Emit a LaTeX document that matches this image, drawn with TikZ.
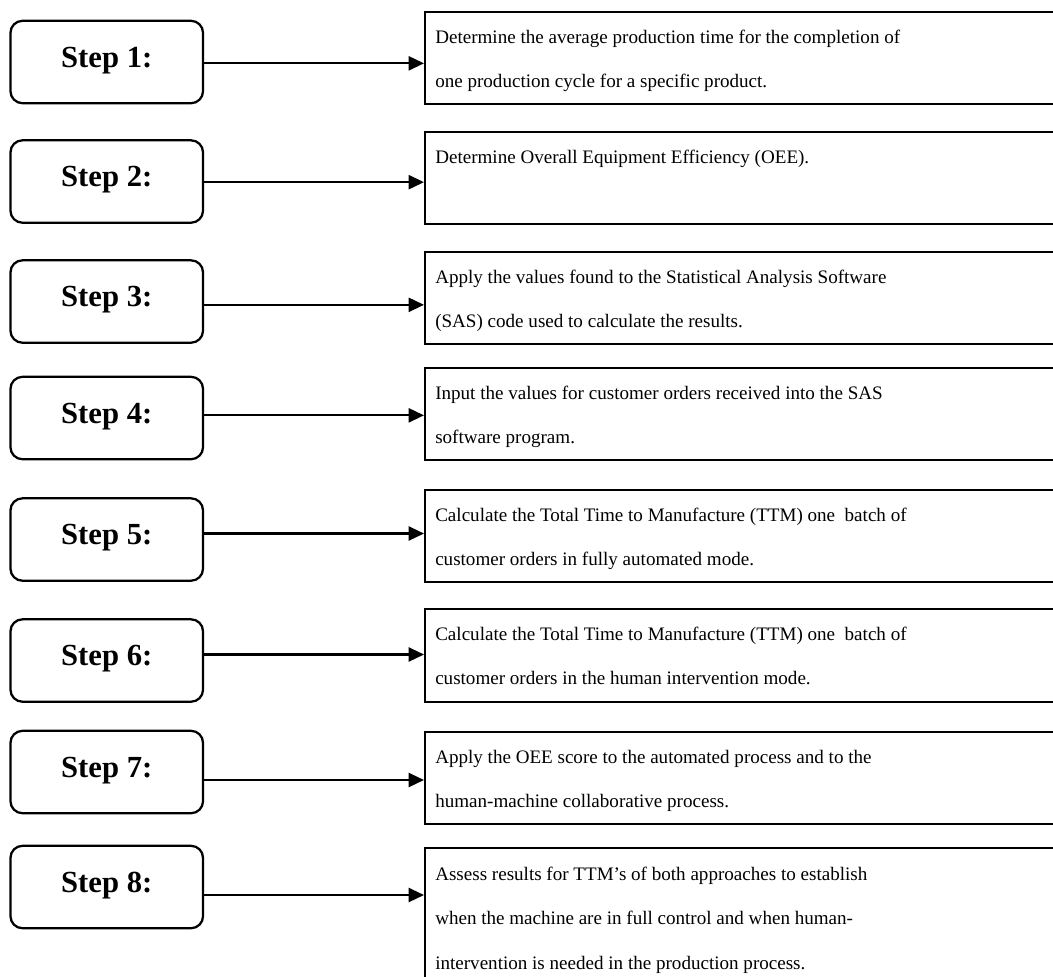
\documentclass[tikz,border=0pt]{standalone}
\usepackage{fontspec}
\setmainfont{Liberation Serif}
\usetikzlibrary{arrows.meta}
\begin{document}
\begin{tikzpicture}[x=0.75pt,y=-0.75pt,
  stepbox/.style={draw, line width=1.7pt, rounded corners=9pt,
    minimum width=144.4pt, minimum height=61.8pt, inner sep=0pt,
    font=\fontsize{23}{27}\selectfont\bfseries,
    text height=15pt, text depth=7.5pt},
  taskbox/.style={draw, line width=1.6pt, anchor=north west,
    minimum width=477pt, inner sep=0pt},
  tasktext/.style={anchor=base west, inner sep=0pt},
  flow/.style={line width=1.7pt, -{Triangle[length=11.5pt,width=10.5pt]}}]
\newcommand\tasklines[1]{\parbox[t]{470pt}{\raggedright
  \fontsize{14.3}{33.4}\selectfont #1}}
\useasboundingbox (0,0) rectangle (1053,976);
\clip (0,0) rectangle (1053,976);

% step labels on the left
\node[stepbox] (l1) at (106.75,62)    {Step 1:};
\node[stepbox] (l2) at (106.75,181.5) {Step 2:};
\node[stepbox] (l3) at (106.75,301.5) {Step 3:};
\node[stepbox] (l4) at (106.75,418)   {Step 4:};
\node[stepbox] (l5) at (106.75,539.5) {Step 5:};
\node[stepbox] (l6) at (106.75,660.5) {Step 6:};
\node[stepbox] (l7) at (106.75,772)   {Step 7:};
\node[stepbox] (l8) at (106.75,887)   {Step 8:};

% task boxes on the right (open to the right edge)
\node[taskbox, minimum height=69pt]  (r1) at (424,11)  {};
\node[taskbox, minimum height=69pt]  (r2) at (424,131) {};
\node[taskbox, minimum height=69pt]  (r3) at (424,251) {};
\node[taskbox, minimum height=69pt]  (r4) at (424,367) {};
\node[taskbox, minimum height=69pt]  (r5) at (424,489) {};
\node[taskbox, minimum height=69.8pt] (r6) at (424,608) {};
\node[taskbox, minimum height=69pt]  (r7) at (424,731) {};
\node[taskbox, minimum height=130pt] (r8) at (424,847) {};

% task descriptions
\node[tasktext] (t1) at ([shift={(11,32)}]r1.north west) {\tasklines{%
  Determine the average production time for the completion of\\
  one production cycle for a specific product.}};
\node[tasktext] (t2) at ([shift={(11,32)}]r2.north west) {\tasklines{%
  Determine Overall Equipment Efficiency (OEE).}};
\node[tasktext] (t3) at ([shift={(11,32)}]r3.north west) {\tasklines{%
  Apply the values found to the Statistical Analysis Software\\
  (SAS) code used to calculate the results.}};
\node[tasktext] (t4) at ([shift={(11,32)}]r4.north west) {\tasklines{%
  Input the values for customer orders received into the SAS\\
  software program.}};
\node[tasktext] (t5) at ([shift={(11,32)}]r5.north west) {\tasklines{%
  Calculate the Total Time to Manufacture (TTM) one\ \ batch of\\
  customer orders in fully automated mode.}};
\node[tasktext] (t6) at ([shift={(11,32)}]r6.north west) {\tasklines{%
  Calculate the Total Time to Manufacture (TTM) one\ \ batch of\\
  customer orders in the human intervention mode.}};
\node[tasktext] (t7) at ([shift={(11,32)}]r7.north west) {\tasklines{%
  Apply the OEE score to the automated process and to the\\
  human-machine collaborative process.}};
\node[tasktext] (t8) at ([shift={(11,33)}]r8.north west) {\tasklines{%
  Assess results for TTM’s of both approaches to establish\\
  when the machine are in full control and when human-\\
  intervention is needed in the production process.}};

% connectors
\coordinate (a1) at ([yshift=-1]l1.east);
\coordinate (a2) at ([yshift=-0.5]l2.east);
\coordinate (a3) at ([yshift=-2.5]l3.east);
\coordinate (a4) at ([yshift=2]l4.east);
\coordinate (a5) at ([yshift=4.5]l5.east);
\coordinate (a6) at ([yshift=4.5]l6.east);
\coordinate (a7) at ([yshift=-6]l7.east);
\coordinate (a8) at ([yshift=-6]l8.east);
\foreach \i in {1,...,8}
  \draw[flow] (a\i) -- (a\i -| r\i.west);
\end{tikzpicture}
\end{document}
